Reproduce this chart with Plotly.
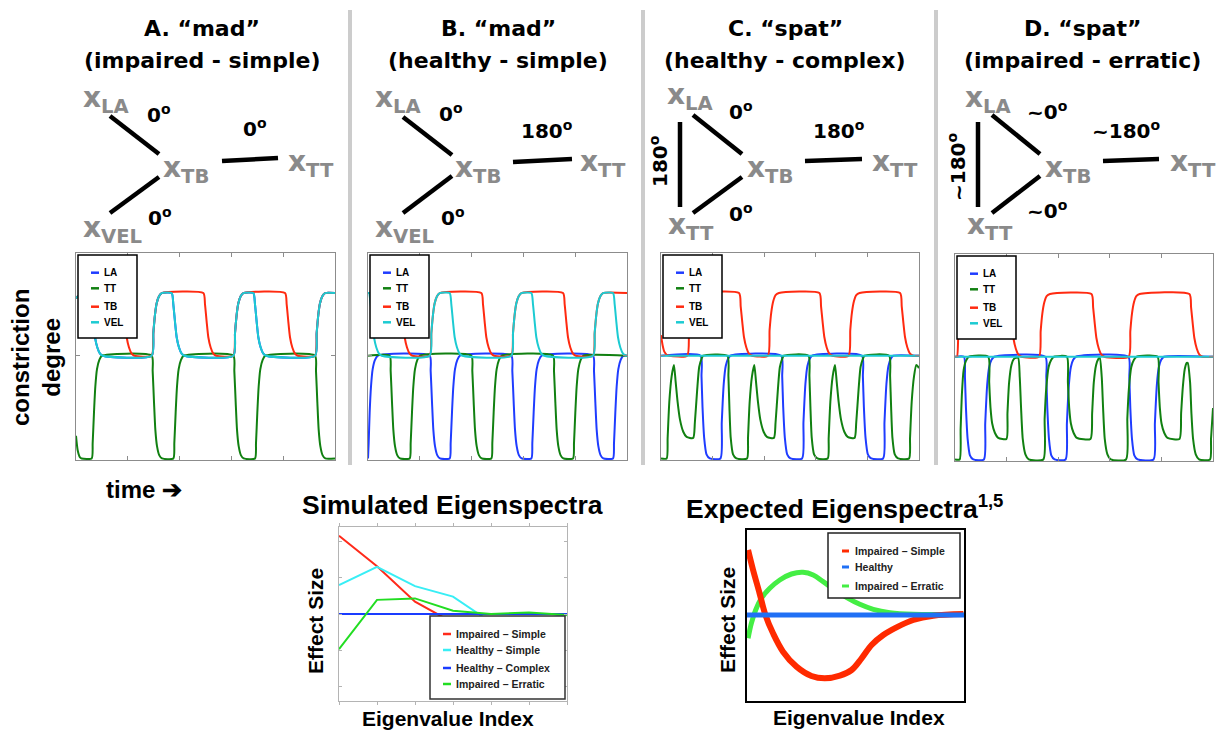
import plotly.graph_objects as go

W, H = 1223, 731

# ------------------------------------------------------------------
# DATA  (time axis in arbitrary units 0..777, constriction degree:
#        baseline 0, full closure -100)
# ------------------------------------------------------------------
SERIES_NAMES = ["LA", "TT", "TB", "VEL"]

# Panel A  "mad" (impaired - simple)
A_VEL_x = [0, 10, 20, 42, 47, 52, 57, 64, 72, 80, 227, 232, 237, 242, 249, 257, 287, 292, 297, 302, 309, 317, 325,
           472, 477, 482, 487, 494, 502, 532, 537, 542, 547, 554, 562, 570, 717, 722, 727, 732, 739, 747, 777]
A_VEL_y = [56, 59, 61, 61, 50, 33, 18, 8, 2, 0, 0, 22, 40, 51, 58, 61, 61, 50, 33, 18, 8, 2, 0,
           0, 22, 40, 51, 58, 61, 61, 50, 33, 18, 8, 2, 0, 0, 22, 40, 51, 58, 61, 61]
A_LA_x = list(A_VEL_x)
A_LA_y = list(A_VEL_y)
A_TB_x = [0, 10, 20, 137, 142, 147, 152, 159, 167, 175, 227, 232, 237, 242, 249, 257, 382, 387, 392, 397, 404, 412, 420,
          472, 477, 482, 487, 494, 502, 627, 632, 637, 642, 649, 657, 665, 717, 722, 727, 732, 739, 747, 777]
A_TB_y = [56, 59, 61, 61, 50, 33, 18, 8, 2, 0, 0, 22, 40, 51, 58, 61, 61, 50, 33, 18, 8, 2, 0,
          0, 22, 40, 51, 58, 61, 61, 50, 33, 18, 8, 2, 0, 0, 22, 40, 51, 58, 61, 61]
A_TT_x = [0, 5, 12, 17, 47, 50, 54, 58, 63, 70, 78, 227, 230, 234, 238, 243, 250, 258, 292, 295, 299, 303, 308, 315, 323,
          472, 475, 479, 483, 488, 495, 503, 537, 540, 544, 548, 553, 560, 568, 717, 720, 724, 728, 733, 740, 748, 777]
A_TT_y = [-78, -92, -99, -100, -100, -85, -55, -30, -13, -4, 0, 0, -15, -45, -72, -88, -97, -100, -100, -85, -55, -30, -13, -4, 0,
          0, -15, -45, -72, -88, -97, -100, -100, -85, -55, -30, -13, -4, 0, 0, -15, -45, -72, -88, -97, -100, -100]

# Panel B  "mad" (healthy - simple)
B_VEL_x = [0, 3, 8, 13, 18, 25, 33, 41, 185, 190, 195, 200, 207, 215, 245, 250, 255, 260, 267, 275, 283,
           430, 435, 440, 445, 452, 460, 490, 495, 500, 505, 512, 520, 528, 675, 680, 685, 690, 697, 705,
           735, 740, 745, 750, 757, 765, 773, 777]
B_VEL_y = [61, 61, 50, 33, 18, 8, 2, 0, 0, 22, 40, 51, 58, 61, 61, 50, 33, 18, 8, 2, 0,
           0, 22, 40, 51, 58, 61, 61, 50, 33, 18, 8, 2, 0, 0, 22, 40, 51, 58, 61,
           61, 50, 33, 18, 8, 2, 0, 0]
B_TB_x = [0, 95, 100, 105, 110, 117, 125, 133, 185, 190, 195, 200, 207, 215, 340, 345, 350, 355, 362, 370, 378,
          430, 435, 440, 445, 452, 460, 585, 590, 595, 600, 607, 615, 623, 675, 680, 685, 690, 697, 705, 777]
B_TB_y = [61, 61, 50, 33, 18, 8, 2, 0, 0, 22, 40, 51, 58, 61, 61, 50, 33, 18, 8, 2, 0,
          0, 22, 40, 51, 58, 61, 61, 50, 33, 18, 8, 2, 0, 0, 22, 40, 51, 58, 61, 61]
B_LA_x = [0, 2, 5, 9, 14, 21, 30, 185, 188, 192, 196, 201, 208, 216, 245, 248, 252, 256, 261, 268, 276,
          430, 433, 437, 441, 446, 453, 461, 490, 493, 497, 501, 506, 513, 521, 675, 678, 682, 686, 691, 698, 706,
          735, 738, 742, 746, 751, 758, 766, 777]
B_LA_y = [-100, -85, -55, -30, -13, -4, 0, 0, -15, -45, -72, -88, -97, -100, -100, -85, -55, -30, -13, -4, 0,
          0, -15, -45, -72, -88, -97, -100, -100, -85, -55, -30, -13, -4, 0, 0, -15, -45, -72, -88, -97, -100,
          -100, -85, -55, -30, -13, -4, 0, 0]
B_TT_x = [0, 65, 68, 72, 76, 81, 88, 96, 125, 128, 132, 136, 141, 148, 156, 310, 313, 317, 321, 326, 333, 341,
          370, 373, 377, 381, 386, 393, 401, 555, 558, 562, 566, 571, 578, 586, 615, 618, 622, 626, 631, 638, 646, 777]
B_TT_y = [0, 0, -15, -45, -72, -88, -97, -100, -100, -85, -55, -30, -13, -4, 0, 0, -15, -45, -72, -88, -97, -100,
          -100, -85, -55, -30, -13, -4, 0, 0, -15, -45, -72, -88, -97, -100, -100, -85, -55, -30, -13, -4, 0, 0]

# Panel C  "spat" (healthy - complex)
C_VEL_x = [0, 777]
C_VEL_y = [0, 0]
C_TB_x = [0, 5, 10, 17, 25, 79, 84, 89, 95, 102, 112, 235, 240, 245, 250, 257, 265, 274, 322, 327, 332, 338, 345, 355,
          477, 482, 487, 492, 499, 507, 516, 565, 570, 575, 581, 588, 598, 720, 725, 730, 735, 742, 750, 759, 777]
C_TB_y = [20, 10, 4, 1, 0, 0, 25, 42, 53, 59, 61, 61, 48, 32, 18, 8, 2, 0, 0, 25, 42, 53, 59, 61,
          61, 48, 32, 18, 8, 2, 0, 0, 25, 42, 53, 59, 61, 61, 48, 32, 18, 8, 2, 0, 0]
C_TT_x = [0, 17, 20, 25, 32, 39, 44, 50, 57, 67, 77, 97, 102, 109, 115, 122, 127, 200, 203, 206, 210, 217, 227,
          259, 262, 267, 274, 281, 286, 292, 299, 309, 319, 340, 345, 352, 358, 365, 370, 444, 447, 450, 454, 461, 471,
          502, 505, 510, 517, 524, 529, 535, 542, 552, 562, 583, 588, 595, 601, 608, 613, 687, 690, 693, 697, 704, 714,
          747, 750, 755, 762, 769, 777]
C_TT_y = [-100, -100, -80, -45, -20, -9, -25, -45, -62, -74, -79, -80, -65, -33, -11, -3, 0, 0, -20, -50, -80, -96, -100,
          -100, -80, -45, -20, -9, -25, -45, -62, -74, -79, -80, -65, -33, -11, -3, 0, 0, -20, -50, -80, -96, -100,
          -100, -80, -45, -20, -9, -25, -45, -62, -74, -79, -80, -65, -33, -11, -3, 0, 0, -20, -50, -80, -96, -100,
          -100, -80, -45, -20, -9, -12]
C_LA_x = [0, 119, 122, 125, 130, 137, 147, 179, 183, 189, 195, 202, 209, 362, 365, 368, 373, 380, 390,
          425, 429, 435, 441, 448, 455, 605, 608, 611, 616, 623, 633, 669, 673, 679, 685, 692, 699, 777]
C_LA_y = [0, 0, -20, -50, -80, -96, -100, -100, -65, -27, -10, -3, 0, 0, -20, -50, -80, -96, -100,
          -100, -65, -27, -10, -3, 0, 0, -20, -50, -80, -96, -100, -100, -65, -27, -10, -3, 0, 0]

# Panel D  "spat" (impaired - erratic)
D_VEL_x = [0, 777]
D_VEL_y = [0, 0]
D_TB_x = [0, 6, 10, 15, 21, 28, 38, 161, 166, 171, 176, 183, 191, 200, 253, 258, 263, 269, 276, 286,
          411, 416, 421, 426, 433, 441, 450, 523, 528, 533, 539, 546, 556, 706, 711, 716, 721, 728, 736, 745, 777]
D_TB_y = [0, 0, 25, 42, 53, 59, 61, 61, 48, 32, 18, 8, 2, 0, 0, 25, 42, 53, 59, 61,
          61, 48, 32, 18, 8, 2, 0, 0, 25, 42, 53, 59, 61, 61, 48, 32, 18, 8, 2, 0, 0]
D_LA_x = [0, 27, 30, 33, 38, 45, 55, 87, 91, 97, 103, 110, 118, 272, 275, 278, 283, 290, 300,
          333, 337, 343, 349, 356, 364, 522, 525, 528, 533, 540, 550, 598, 602, 608, 614, 621, 629, 777]
D_LA_y = [0, 0, -20, -50, -80, -96, -100, -100, -65, -27, -10, -3, 0, 0, -20, -50, -80, -96, -100,
          -100, -65, -27, -10, -3, 0, 0, -20, -50, -80, -96, -100, -100, -65, -27, -10, -3, 0, 0]
D_TT_x = [0, 14, 17, 21, 26, 33, 42, 100, 103, 107, 112, 120, 130, 155, 158, 163, 170, 178, 190,
          195, 199, 204, 212, 222, 266, 270, 275, 282, 290, 298, 337, 340, 344, 349, 357, 367,
          408, 413, 418, 425, 432, 436, 442, 446, 451, 459, 469, 515, 519, 524, 531, 539, 547,
          610, 613, 617, 622, 630, 640, 676, 681, 686, 692, 698, 701, 708, 712, 717, 725, 735, 768, 771, 777]
D_TT_y = [-100, -100, -70, -35, -13, -4, 0, 0, -25, -50, -65, -74, -79, -80, -55, -25, -8, -2, -1,
          -20, -50, -80, -95, -100, -100, -60, -30, -10, -3, 0, 0, -25, -50, -65, -74, -79,
          -80, -55, -25, -8, -2, -1, -20, -50, -80, -95, -100, -100, -60, -30, -10, -3, 0,
          0, -25, -50, -65, -74, -79, -80, -55, -30, -12, -6, -6, -25, -55, -80, -95, -100, -100, -80, -50]

# Simulated eigenspectra
SIM_INDEX = [1, 2, 3, 4, 5, 6, 7]
SIM_IMPAIRED_SIMPLE = [2.16, 1.32, 0.34, -0.24, -0.24, -0.21, -0.03]
SIM_HEALTHY_SIMPLE = [0.80, 1.30, 0.77, 0.48, -0.23, -0.17, -0.03]
SIM_HEALTHY_COMPLEX = [0, 0, 0, 0, 0, 0, 0]
SIM_IMPAIRED_ERRATIC = [-0.97, 0.39, 0.43, 0.09, 0.0, 0.04, -0.03]
SIM_LABELS = ["Impaired \u2013 Simple", "Healthy \u2013 Simple", "Healthy \u2013 Complex", "Impaired \u2013 Erratic"]

# Expected eigenspectra
EXP_RED_X = [0.05, 0.28, 0.58, 0.85, 1.2, 1.66, 2.28, 2.97, 3.58, 4.28, 4.82, 5.28, 5.74, 6.28, 6.89, 7.66, 8.58, 9.97]
EXP_RED_Y = [1.95, 1.35, 0.65, 0.0, -0.55, -1.1, -1.55, -1.83, -1.9, -1.82, -1.65, -1.3, -0.9, -0.6, -0.37, -0.15, -0.02, 0.03]
EXP_GREEN_X = [0.05, 0.2, 0.4, 0.66, 1.05, 1.51, 2.05, 2.58, 3.05, 3.51, 4.05, 4.58, 5.2, 5.82, 6.58, 7.66, 9.97]
EXP_GREEN_Y = [-0.7, -0.25, 0.15, 0.5, 0.8, 1.05, 1.23, 1.28, 1.2, 1.0, 0.75, 0.53, 0.32, 0.17, 0.07, 0.02, 0.02]
EXP_BLUE_X = [0, 10]
EXP_BLUE_Y = [0, 0]
EXP_LABELS = ["Impaired \u2013 Simple", "Healthy", "Impaired \u2013 Erratic"]

# ------------------------------------------------------------------
# STYLE / LAYOUT
# ------------------------------------------------------------------
C_LA, C_TT, C_TB, C_VEL = "#1f3cff", "#118011", "#ff2a10", "#1ccbd2"
TS_COLORS = [C_LA, C_TT, C_TB, C_VEL]
GRAY_TXT = "#8a8a8a"
ARIAL = "Liberation Sans, Arial, sans-serif"
DEJA = "DejaVu Sans, sans-serif"


def fx(px):
    return px / W


def fy(py):
    return 1 - py / H


fig = go.Figure()

panels = [
    dict(left=76, right=335, top=253, bottom=460,
         data=[(A_LA_x, A_LA_y), (A_TT_x, A_TT_y), (A_TB_x, A_TB_y), (A_VEL_x, A_VEL_y)]),
    dict(left=368, right=627, top=253, bottom=460,
         data=[(B_LA_x, B_LA_y), (B_TT_x, B_TT_y), (B_TB_x, B_TB_y), (B_VEL_x, B_VEL_y)]),
    dict(left=661, right=919, top=253, bottom=460,
         data=[(C_LA_x, C_LA_y), (C_TT_x, C_TT_y), (C_TB_x, C_TB_y), (C_VEL_x, C_VEL_y)]),
    dict(left=955, right=1213, top=254, bottom=461,
         data=[(D_LA_x, D_LA_y), (D_TT_x, D_TT_y), (D_TB_x, D_TB_y), (D_VEL_x, D_VEL_y)]),
]

shapes = []
annotations = []
layout_axes = {}

for i, p in enumerate(panels):
    n = i + 1
    xa = "x" if n == 1 else f"x{n}"
    ya = "y" if n == 1 else f"y{n}"
    for (xs, ys), name, col in zip(p["data"], SERIES_NAMES, TS_COLORS):
        fig.add_trace(go.Scatter(x=xs, y=ys, mode="lines", name=name, showlegend=False,
                                 line=dict(color=col, width=2, shape="spline", smoothing=0.6),
                                 xaxis=xa, yaxis=ya, hoverinfo="skip"))
    xkey = "xaxis" if n == 1 else f"xaxis{n}"
    ykey = "yaxis" if n == 1 else f"yaxis{n}"
    layout_axes[xkey] = dict(domain=[fx(p["left"]), fx(p["right"])], anchor=ya, range=[0, 777],
                             showgrid=False, zeroline=False, showticklabels=False,
                             showline=True, mirror="ticks", linecolor="#8c8c8c", linewidth=1,
                             ticks="inside", ticklen=4, tickcolor="#8c8c8c",
                             tickvals=[155.4, 310.8, 466.2, 621.6])
    layout_axes[ykey] = dict(domain=[fy(p["bottom"]), fy(p["top"])], anchor=xa, range=[-101.5, 100],
                             showgrid=False, zeroline=False, showticklabels=False,
                             showline=True, mirror="ticks", linecolor="#8c8c8c", linewidth=1,
                             ticks="inside", ticklen=4, tickcolor="#8c8c8c", tickvals=[0])
    # manual legend box
    L = p["left"]
    T = p["top"] + 2
    shapes.append(dict(type="rect", xref="paper", yref="paper", x0=fx(L + 2), x1=fx(L + 61),
                       y0=fy(T + 83), y1=fy(T), line=dict(color="black", width=1.5), fillcolor="white"))
    for k, (name, col) in enumerate(zip(SERIES_NAMES, TS_COLORS)):
        yy = T + [17.7, 33.3, 51.7, 67.3][k]
        shapes.append(dict(type="line", xref="paper", yref="paper", x0=fx(L + 15), x1=fx(L + 23),
                           y0=fy(yy), y1=fy(yy), line=dict(color=col, width=2.5)))
        annotations.append(dict(text=name, x=fx(L + 26), y=fy(yy), xref="paper", yref="paper",
                                xanchor="left", yanchor="middle", showarrow=False,
                                font=dict(family=ARIAL, size=10, color="black", weight="bold")))

# ---- simulated eigenspectra ----
sim_cols = ["#ff2a1a", "#38eef5", "#1a3cff", "#22dd22"]
for ys, name, col in zip([SIM_IMPAIRED_SIMPLE, SIM_HEALTHY_SIMPLE, SIM_HEALTHY_COMPLEX, SIM_IMPAIRED_ERRATIC],
                         SIM_LABELS, sim_cols):
    fig.add_trace(go.Scatter(x=SIM_INDEX, y=ys, mode="lines", name=name, showlegend=False,
                             line=dict(color=col, width=2), xaxis="x5", yaxis="y5", hoverinfo="skip"))
layout_axes["xaxis5"] = dict(domain=[fx(339), fx(567)], anchor="y5", range=[1, 7], showgrid=False,
                             zeroline=False, showticklabels=False, showline=True, mirror="ticks",
                             linecolor="#b4b4b4", linewidth=1, ticks="outside", ticklen=3,
                             tickcolor="#b4b4b4", tickvals=SIM_INDEX)
layout_axes["yaxis5"] = dict(domain=[fy(701), fy(527)], anchor="x5", range=[-2.4, 2.4], showgrid=False,
                             zeroline=False, showticklabels=False, showline=True, mirror="ticks",
                             linecolor="#b4b4b4", linewidth=1, ticks="inside", ticklen=3,
                             tickcolor="#b4b4b4", tickvals=[-2, -1, 0, 1, 2])
shapes.append(dict(type="rect", xref="paper", yref="paper", x0=fx(430), x1=fx(565), y0=fy(699), y1=fy(616),
                   line=dict(color="#333333", width=1.5), fillcolor="white"))
for k, (name, col) in enumerate(zip(SIM_LABELS, sim_cols)):
    yy = [634, 650, 668, 684][k]
    shapes.append(dict(type="line", xref="paper", yref="paper", x0=fx(443), x1=fx(451), y0=fy(yy), y1=fy(yy),
                       line=dict(color=col, width=2.5)))
    annotations.append(dict(text=name, x=fx(454), y=fy(yy), xref="paper", yref="paper", xanchor="left",
                            yanchor="middle", showarrow=False,
                            font=dict(family=ARIAL, size=10.5, color="#222222", weight="bold")))

# ---- expected eigenspectra ----
exp_red, exp_blue, exp_green = "#ff2a00", "#2070f5", "#44ee44"
fig.add_trace(go.Scatter(x=EXP_GREEN_X, y=EXP_GREEN_Y, mode="lines", name=EXP_LABELS[2], showlegend=False,
                         line=dict(color=exp_green, width=5, shape="spline"), xaxis="x6", yaxis="y6",
                         hoverinfo="skip"))
fig.add_trace(go.Scatter(x=EXP_RED_X, y=EXP_RED_Y, mode="lines", name=EXP_LABELS[0], showlegend=False,
                         line=dict(color=exp_red, width=6, shape="spline"), xaxis="x6", yaxis="y6",
                         hoverinfo="skip"))
fig.add_trace(go.Scatter(x=EXP_BLUE_X, y=EXP_BLUE_Y, mode="lines", name=EXP_LABELS[1], showlegend=False,
                         line=dict(color=exp_blue, width=5), xaxis="x6", yaxis="y6", hoverinfo="skip"))
layout_axes["xaxis6"] = dict(domain=[fx(747), fx(964)], anchor="y6", range=[0, 10], showgrid=False,
                             zeroline=False, showticklabels=False, showline=True, mirror=True,
                             linecolor="black", linewidth=2, ticks="")
layout_axes["yaxis6"] = dict(domain=[fy(701), fy(530)], anchor="x6", range=[-2.58, 2.55], showgrid=False,
                             zeroline=False, showticklabels=False, showline=True, mirror=True,
                             linecolor="black", linewidth=2, ticks="")
shapes.append(dict(type="rect", xref="paper", yref="paper", x0=fx(828), x1=fx(960), y0=fy(598), y1=fy(533),
                   line=dict(color="#222222", width=1.5), fillcolor="white"))
for k, (name, col) in enumerate(zip(EXP_LABELS, [exp_red, exp_blue, exp_green])):
    yy = [551, 567, 586][k]
    shapes.append(dict(type="line", xref="paper", yref="paper", x0=fx(842), x1=fx(849), y0=fy(yy), y1=fy(yy),
                       line=dict(color=col, width=3)))
    annotations.append(dict(text=name, x=fx(853), y=fy(yy), xref="paper", yref="paper", xanchor="left",
                            yanchor="middle", showarrow=False,
                            font=dict(family=ARIAL, size=10.5, color="#222222", weight="bold")))

# ---- separators ----
for sx in [350, 643, 936]:
    shapes.append(dict(type="line", xref="paper", yref="paper", x0=fx(sx), x1=fx(sx), y0=fy(10), y1=fy(465),
                       line=dict(color="#cccccc", width=4), layer="below"))

# ---- panel titles ----
titles = [("A. \u201cmad\u201d", "(impaired - simple)", 202),
          ("B. \u201cmad\u201d", "(healthy - simple)", 498),
          ("C. \u201cspat\u201d", "(healthy - complex)", 785),
          ("D. \u201cspat\u201d", "(impaired - erratic)", 1082)]
for t1, t2, cx in titles:
    for txt, cy in [(t1, 28), (t2, 60)]:
        annotations.append(dict(text=txt, x=fx(cx), y=fy(cy), xref="paper", yref="paper", xanchor="center",
                                yanchor="middle", showarrow=False,
                                font=dict(family=DEJA, size=22, color="black", weight="bold")))

# ---- articulator graphs ----
nodes = [  # (label html, left px, center-y px of the x glyph)
    ("x<sub>LA</sub>", 83, 96), ("x<sub>TB</sub>", 163, 165), ("x<sub>TT</sub>", 288, 160), ("x<sub>VEL</sub>", 83, 225),
    ("x<sub>LA</sub>", 375, 96), ("x<sub>TB</sub>", 455, 165), ("x<sub>TT</sub>", 580, 160), ("x<sub>VEL</sub>", 375, 225),
    ("x<sub>LA</sub>", 667, 92), ("x<sub>TB</sub>", 747, 165), ("x<sub>TT</sub>", 872, 160), ("x<sub>TT</sub>", 668, 222),
    ("x<sub>LA</sub>", 965, 96), ("x<sub>TB</sub>", 1045, 165), ("x<sub>TT</sub>", 1170, 160), ("x<sub>TT</sub>", 967, 222),
]
for txt, lx, cy in nodes:
    annotations.append(dict(text=txt, x=fx(lx - 2), y=fy(cy + 4), xref="paper", yref="paper", xanchor="left",
                            yanchor="middle", showarrow=False,
                            font=dict(family=DEJA, size=28, color=GRAY_TXT, weight="bold")))

edges = [
    (110, 116, 159, 154), (222, 161, 278, 158), (159, 177, 110, 213),
    (403, 117, 452, 155), (513, 162, 572, 159), (452, 176, 403, 213),
    (693, 115, 742, 154), (805, 161, 862, 159), (742, 177, 693, 213), (680, 122, 680, 207),
    (992, 115, 1040, 154), (1103, 161, 1159, 159), (1040, 176, 992, 213), (978, 122, 978, 207),
]
for x0, y0, x1, y1 in edges:
    shapes.append(dict(type="line", xref="paper", yref="paper", x0=fx(x0), y0=fy(y0), x1=fx(x1), y1=fy(y1),
                       line=dict(color="black", width=4.5)))

phases = [  # (text, center x, center y, angle)
    ("0<sup>o</sup>", 159, 114, 0), ("0<sup>o</sup>", 255, 128, 0), ("0<sup>o</sup>", 160, 217, 0),
    ("0<sup>o</sup>", 451, 113, 0), ("180<sup>o</sup>", 547, 130, 0), ("0<sup>o</sup>", 453, 217, 0),
    ("0<sup>o</sup>", 741, 111, 0), ("180<sup>o</sup>", 839, 130, 0), ("180<sup>o</sup>", 659, 161, -90),
    ("0<sup>o</sup>", 741, 213, 0),
    ("~0<sup>o</sup>", 1047, 111, 0), ("~180<sup>o</sup>", 1126, 130, 0), ("~180<sup>o</sup>", 957, 167, -90),
    ("~0<sup>o</sup>", 1047, 210, 0),
]
for txt, cx, cy, ang in phases:
    annotations.append(dict(text=txt, x=fx(cx), y=fy(cy), xref="paper", yref="paper", xanchor="center",
                            yanchor="middle", showarrow=False, textangle=ang,
                            font=dict(family=DEJA, size=20, color="black", weight="bold")))

# ---- axis-like labels ----
annotations.append(dict(text="constriction<br>degree", x=fx(36), y=fy(358), xref="paper", yref="paper",
                        xanchor="center", yanchor="middle", showarrow=False, textangle=-90,
                        font=dict(family=ARIAL, size=24, color="black", weight="bold")))
annotations.append(dict(text="time \u2794", x=fx(104), y=fy(489), xref="paper", yref="paper",
                        xanchor="left", yanchor="middle", showarrow=False,
                        font=dict(family=ARIAL, size=24, color="black", weight="bold")))
annotations.append(dict(text="Simulated Eigenspectra", x=fx(453), y=fy(505), xref="paper", yref="paper",
                        xanchor="center", yanchor="middle", showarrow=False,
                        font=dict(family=ARIAL, size=26.5, color="black", weight="bold")))
annotations.append(dict(text="Expected Eigenspectra<sup>1,5</sup>", x=fx(684), y=fy(507), xref="paper",
                        yref="paper", xanchor="left", yanchor="middle", showarrow=False,
                        font=dict(family=ARIAL, size=26.5, color="black", weight="bold")))
for cx, cy in [(315, 621), (727, 620)]:
    annotations.append(dict(text="Effect Size", x=fx(cx), y=fy(cy), xref="paper", yref="paper",
                            xanchor="center", yanchor="middle", showarrow=False, textangle=-90,
                            font=dict(family=ARIAL, size=21, color="black", weight="bold")))
for cx, cy in [(448, 718), (859, 717)]:
    annotations.append(dict(text="Eigenvalue Index", x=fx(cx), y=fy(cy), xref="paper", yref="paper",
                            xanchor="center", yanchor="middle", showarrow=False,
                            font=dict(family=ARIAL, size=21, color="black", weight="bold")))

fig.update_layout(width=W, height=H, margin=dict(l=0, r=0, t=0, b=0), paper_bgcolor="white",
                  plot_bgcolor="white", showlegend=False, shapes=shapes, annotations=annotations,
                  **layout_axes)

fig.write_html("out.html", config={"displayModeBar": False},
               post_script="document.body.style.margin='0';document.body.style.overflow='hidden';")
